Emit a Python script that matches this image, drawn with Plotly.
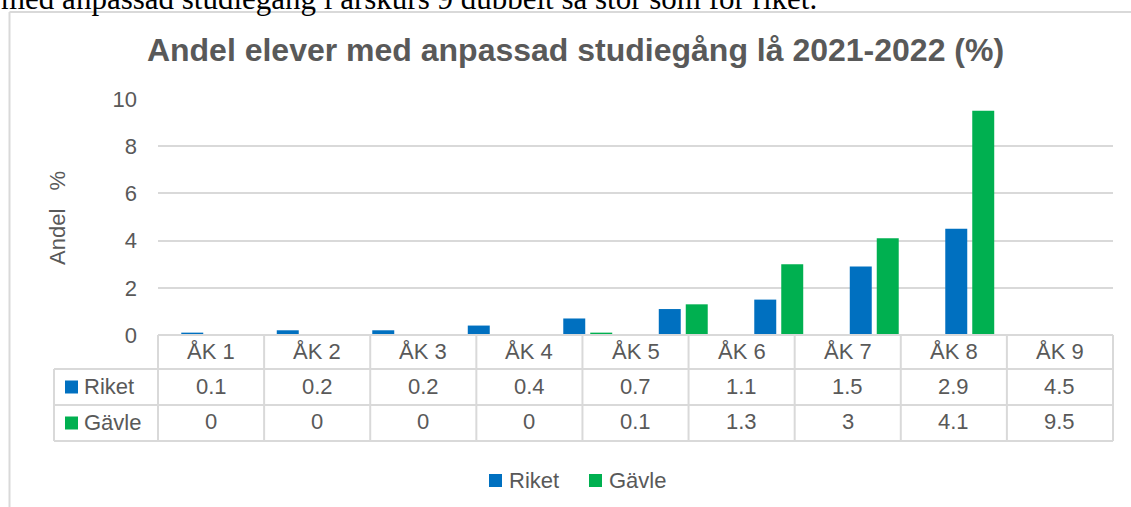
import plotly.graph_objects as go

categories = ["ÅK 1", "ÅK 2", "ÅK 3", "ÅK 4", "ÅK 5", "ÅK 6", "ÅK 7", "ÅK 8", "ÅK 9"]
riket = [0.1, 0.2, 0.2, 0.4, 0.7, 1.1, 1.5, 2.9, 4.5]
gavle = [0, 0, 0, 0, 0.1, 1.3, 3, 4.1, 9.5]
series_names = ["Riket", "Gävle"]
series_colors = ["#0070c0", "#00b050"]
y_ticks = [0, 2, 4, 6, 8, 10]

title_text = "Andel elever med anpassad studiegång lå 2021-2022 (%)"
y_title = "Andel\u00a0\u00a0\u00a0%"
top_text = "med anpassad studiegång i årskurs 9 dubbelt så stor som för riket."

W_PX, H_PX = 1131, 507
L, R, T, B = 158, 18, 99, 172
PW = W_PX - L - R
PH = H_PX - T - B

def px(x):
    return (x - L) / PW

def py(y):
    return (T + PH - y) / PH

GRAY = "#595959"
LINE = "#d9d9d9"
FONT = "Liberation Sans, Arial, sans-serif"

fig = go.Figure()
for name, vals, col in zip(series_names, [riket, gavle], series_colors):
    fig.add_trace(go.Bar(x=categories, y=vals, name=name, marker_color=col,
                         marker_line_width=0, showlegend=False))

fig.update_layout(
    width=W_PX, height=H_PX,
    margin=dict(l=L, r=R, t=T, b=B),
    paper_bgcolor="white", plot_bgcolor="white",
    barmode="group", bargap=0.435, bargroupgap=0.185,
    font=dict(family=FONT, size=22, color=GRAY),
    title=dict(text="<b>" + title_text + "</b>", xref="container", yref="container",
               x=575.5 / W_PX, y=1 - 50 / H_PX, xanchor="center", yanchor="middle",
               font=dict(family=FONT, size=32, color=GRAY)),
    xaxis=dict(type="category", range=[-0.5, 9.5], showticklabels=False,
               showgrid=False, zeroline=False, showline=False, fixedrange=True),
    yaxis=dict(range=[0, 10], tickvals=y_ticks, showgrid=True, gridcolor=LINE,
               gridwidth=2, zeroline=False, showline=False, ticks="",
               ticklabelstandoff=20, tickfont=dict(size=22, color=GRAY)),
)

shapes = []
annotations = []

def hline(x0, x1, y):
    shapes.append(dict(type="line", xref="paper", yref="paper",
                       x0=px(x0), x1=px(x1), y0=py(y), y1=py(y),
                       line=dict(color=LINE, width=2)))

def vline(x, y0, y1):
    shapes.append(dict(type="line", xref="paper", yref="paper",
                       x0=px(x), x1=px(x), y0=py(y0), y1=py(y1),
                       line=dict(color=LINE, width=2)))

def text(x, y, s, anchor="center", size=22, color=GRAY, family=FONT):
    annotations.append(dict(xref="paper", yref="paper", x=px(x), y=py(y), text=s,
                            showarrow=False, xanchor=anchor, yanchor="middle",
                            font=dict(size=size, color=color, family=family)))

def square(x0, y0, size, color):
    shapes.append(dict(type="rect", xref="paper", yref="paper",
                       x0=px(x0), x1=px(x0 + size), y0=py(y0), y1=py(y0 + size),
                       line=dict(width=0), fillcolor=color))

# outer chart frame
vline(9.5, 12, H_PX + 5)
hline(9.5, W_PX + 5, 12)

# data table
tbl_left, tbl_lab = 158, 54
tbl_right = L + PW
row_y = [335, 369, 405, 441]
ncol = len(categories)
colw = (tbl_right - tbl_left) / ncol

hline(tbl_left, tbl_right, row_y[0])
for yy in row_y[1:]:
    hline(tbl_lab, tbl_right, yy)
vline(tbl_lab, row_y[1], row_y[3])
for i in range(ncol + 1):
    vline(tbl_left + i * colw, row_y[0], row_y[3])

for i, cat in enumerate(categories):
    cx = tbl_left + (i + 0.5) * colw
    text(cx, 351, cat)
    text(cx, 386, f"{riket[i]:g}")
    text(cx, 421, f"{gavle[i]:g}")

for (name, col, yc) in zip(series_names, series_colors, [387, 423]):
    square(65, yc - 6.5, 13, col)
    text(82, yc - 1, name, anchor="left")

# bottom legend
leg_items = [(489, series_names[0], series_colors[0]), (589, series_names[1], series_colors[1])]
for (lx, name, col) in leg_items:
    square(lx, 474, 13, col)
    text(lx + 18, 480, name, anchor="left")

# y-axis title
annotations.append(dict(xref="paper", yref="paper", x=px(57), y=py(218), text=y_title,
                        textangle=-90, showarrow=False, xanchor="center", yanchor="middle",
                        font=dict(size=22, color=GRAY, family=FONT)))

# cropped document text at top
annotations.append(dict(xref="paper", yref="paper", x=px(-1), y=py(18), text=top_text,
                        showarrow=False, xanchor="left", yanchor="bottom",
                        font=dict(size=31, color="black", family="Liberation Serif, Times New Roman, serif")))

fig.update_layout(shapes=shapes, annotations=annotations)
fig.write_html("out.html", config={"displayModeBar": False},
               post_script="document.body.style.margin='0';document.body.style.padding='0';")
